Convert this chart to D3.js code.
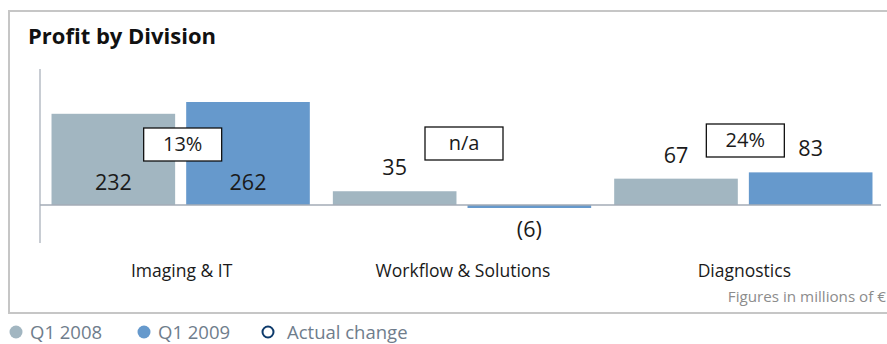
<!DOCTYPE html>
<html><head><meta charset="utf-8">
<script src="https://cdn.jsdelivr.net/npm/d3@7"></script>
<style>
html,body{margin:0;padding:0;background:#fff;}
svg{display:block;font-family:"Open Sans","Noto Sans",sans-serif;}
</style></head>
<body><svg id="c" width="887" height="344"></svg>
<script>
const categories = ["Imaging & IT", "Workflow & Solutions", "Diagnostics"];
const series = ["Q1 2008", "Q1 2009"];
const q12008 = [232, 35, 67];
const q12009 = [262, -6, 83];
const changes = ["13%", "n/a", "24%"];
const legendLabels = ["Q1 2008", "Q1 2009", "Actual change"];
const colors = {"Q1 2008": "#a2b6c1", "Q1 2009": "#6699cc"};

const svg = d3.select("#c");

// frame
svg.append("path").attr("d","M887,11 H9 V313 H887").attr("fill","none")
  .attr("stroke","#c6c6c6").attr("stroke-width",2);

svg.append("text").attr("x",28).attr("y",44).attr("font-size",22).attr("font-weight","bold")
  .attr("fill","#111").text("Profit by Division");

const x = d3.scaleBand().domain(categories).range([40,884]).padding(0);
const xs = d3.scaleBand().domain(series).range([0,x.bandwidth()]).paddingInner(0.082).paddingOuter(0.0855);
const y = d3.scaleLinear().domain([0,262]).range([205,102]);

const data = categories.map((c,i)=>({cat:c, vals:[{s:"Q1 2008",v:q12008[i]},{s:"Q1 2009",v:q12009[i]}], change:changes[i]}));

// axis
svg.append("line").attr("x1",40).attr("x2",40).attr("y1",69).attr("y2",243).attr("stroke","#a3abb6").attr("stroke-width",1.2);

const g = svg.selectAll("g.grp").data(data).join("g").attr("transform",d=>`translate(${x(d.cat)},0)`);
g.selectAll("rect").data(d=>d.vals).join("rect")
  .attr("x",d=>xs(d.s)).attr("width",xs.bandwidth())
  .attr("y",d=>Math.min(y(d.v),y(0))).attr("height",d=>Math.max(Math.abs(y(d.v)-y(0)),3))
  .attr("fill",d=>colors[d.s]);

svg.append("line").attr("x1",40).attr("x2",881).attr("y1",y(0)).attr("y2",y(0)).attr("stroke","#a3abb6").attr("stroke-width",1.5);

g.selectAll("text.val").data(d=>d.vals).join("text").attr("class","val")
  .attr("x",d=>xs(d.s)+xs.bandwidth()/2)
  .attr("y",d=>{ if(d.v<0) return y(0)+32; const h=y(0)-y(d.v); return h>50 ? y(0)-15 : y(d.v)-16; })
  .attr("text-anchor","middle").attr("font-size",21.5).attr("fill","#1a1a1a")
  .text(d=>d.v<0?`(${-d.v})`:d.v);

// change boxes
const boxW = 78, boxH = 33;
const boxTop = [128,127,124];
g.append("rect").attr("x",x.bandwidth()/2-37).attr("y",(d,i)=>boxTop[i]).attr("width",boxW).attr("height",boxH)
  .attr("fill","#fff").attr("stroke","#111").attr("stroke-width",1.3);
g.append("text").attr("x",x.bandwidth()/2+2).attr("y",(d,i)=>boxTop[i]+23)
  .attr("text-anchor","middle").attr("font-size",20).attr("fill","#1a1a1a").text(d=>d.change);

// category labels
g.append("text").attr("x",x.bandwidth()/2+1).attr("y",277).attr("text-anchor","middle")
  .attr("font-size",17.5).attr("fill","#1a1a1a").text(d=>d.cat);

svg.append("text").attr("x",886).attr("y",302).attr("text-anchor","end").attr("font-size",15.2)
  .attr("fill","#8c8c8c").text("Figures in millions of €");

// legend
const lx = [16,144,268];
const lg = svg.selectAll("g.leg").data(legendLabels).join("g").attr("transform",(d,i)=>`translate(${lx[i]},332)`);
lg.append("circle").attr("r",(d,i)=>i<2?6.5:5.5)
  .attr("fill",(d,i)=>i<2?colors[series[i]]:"#fff")
  .attr("stroke",(d,i)=>i<2?"none":"#0d3a6b").attr("stroke-width",2);
lg.append("text").attr("x",(d,i)=>i<2?14:19).attr("y",6.5).attr("font-size",18.5).attr("fill","#6f7d8c").text(d=>d);
</script></body></html>
